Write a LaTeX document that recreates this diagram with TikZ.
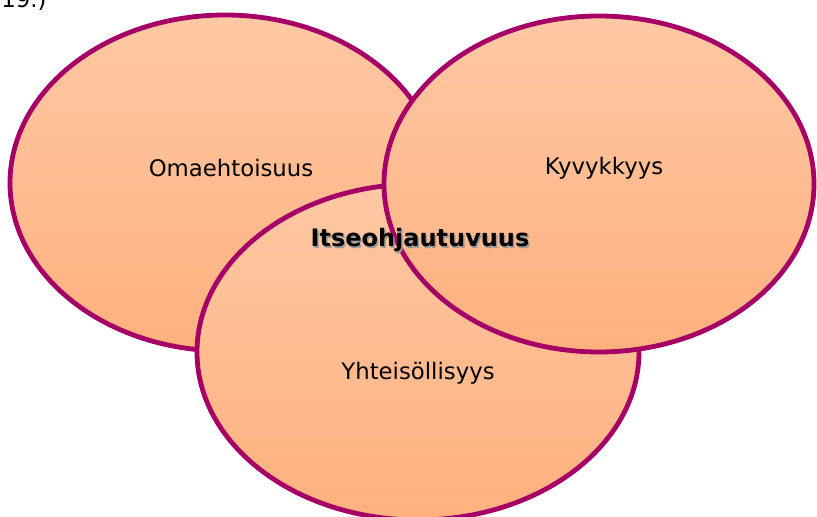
\documentclass[tikz,border=0pt]{standalone}
\usepackage{fontspec}
\setmainfont{DejaVu Sans}
\usetikzlibrary{shapes.geometric}
\definecolor{rim}{RGB}{166,0,102}
\definecolor{peachtop}{RGB}{255,200,164}
\definecolor{peachbot}{RGB}{255,176,126}
\tikzset{
  petal/.style={ellipse, draw=rim, line width=2.4pt, top color=peachtop,
    bottom color=peachbot, inner sep=0pt, minimum width=215pt, minimum height=168pt},
  word/.style={font=\fontsize{11.4}{13}\selectfont, text=black, inner sep=0pt}
}
\begin{document}
\begin{tikzpicture}[x=0.5pt,y=-0.5pt]
  \useasboundingbox (0,0) rectangle (817,517);
  \node[word, anchor=base west] (nr) at (1,8) {19.)};
  % the three circles
  \node[petal] (left) at (225,183) {};
  \node[petal, minimum width=221pt] (bottom) at (418,352) {};
  \node[petal] (right) at (599,184) {};
  % labels
  \node[word] (oma) at (231,168) {Omaehtoisuus};
  \node[word] (kyv) at (604,168) {Kyvykkyys};
  \node[word] (yht) at (418,373) {Yhteisöllisyys};
  \node[word, font=\fontsize{12}{14}\bfseries, text=black!40] (itseshadow) at (421.5,241.5) {Itseohjautuvuus};
  \node[word, font=\fontsize{12}{14}\bfseries] (itse) at (420,240) {Itseohjautuvuus};
\end{tikzpicture}
\end{document}
